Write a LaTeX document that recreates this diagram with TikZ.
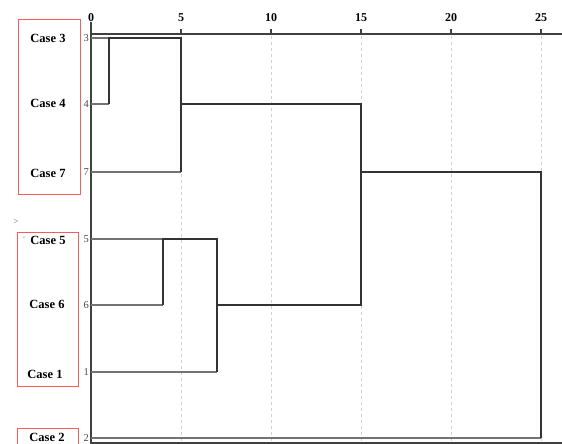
\documentclass[tikz,border=0pt]{standalone}
\usepackage{fontspec}
\setmainfont{Liberation Serif}
\begin{document}
\begin{tikzpicture}[x=1pt,y=-1pt,
  dend/.style={draw=black!80, line width=1.2pt},
  leaf/.style={draw=black!55, line width=1.1pt},
  axisline/.style={draw=black!75, line width=1.3pt},
  gridline/.style={draw=black!18, line width=0.9pt, dash pattern=on 3pt off 3pt},
  casebox/.style={draw=red!65, line width=0.9pt},
  caselab/.style={font=\bfseries\fontsize{12.5}{13}\selectfont, inner sep=0pt},
  ticklab/.style={font=\bfseries\fontsize{12}{13}\selectfont, inner sep=0pt},
  numlab/.style={font=\fontsize{10.5}{11}\selectfont, text=black!70, inner sep=0pt, anchor=east}]
\useasboundingbox (0,0) rectangle (562,444);
\fill[white] (0,0) rectangle (562,444);
% grid
\foreach \h in {5,10,15,20,25}{
  \draw[gridline] ({91+18*\h},36) -- ({91+18*\h},443);
}
% axes
\coordinate (ax0) at (91,34);
\coordinate (axR) at (562,34);
\draw[axisline] (ax0) -- (axR);
\draw[axisline] (91,22) -- (91,444);
\draw[axisline] (91,443) -- (562,443);
\foreach \h in {5,10,15,20,25}{
  \draw[axisline] ({91+18*\h},29) -- ({91+18*\h},34);
}
\foreach \h in {0,5,10,15,20,25}{
  \node[ticklab] (t\h) at ({91+18*\h},18) {\h};
}
% coordinates of leaves
\coordinate (l3) at (91,38);
\coordinate (l4) at (91,104);
\coordinate (l7) at (91,172);
\coordinate (l5) at (91,239);
\coordinate (l6) at (91,305);
\coordinate (l1) at (91,372);
\coordinate (l2) at (91,438);
% merge points
\coordinate (m34) at (109,38);
\coordinate (m34b) at (109,104);
\coordinate (m347t) at (181,38);
\coordinate (m347m) at (181,104);
\coordinate (m347b) at (181,172);
\coordinate (m56t) at (163,239);
\coordinate (m56b) at (163,305);
\coordinate (m561t) at (217,239);
\coordinate (m561m) at (217,305);
\coordinate (m561b) at (217,372);
\coordinate (mbt) at (361,104);
\coordinate (mbm) at (361,172);
\coordinate (mbb) at (361,305);
\coordinate (mall) at (541,172);
\coordinate (mallb) at (541,438);
% leaves
\draw[leaf] (l3) -- (m34);
\draw[leaf] (l4) -- (m34b);
\draw[leaf] (l7) -- (m347b);
\draw[leaf] (l5) -- (m56t);
\draw[leaf] (l6) -- (m56b);
\draw[leaf] (l1) -- (m561b);
\draw[leaf] (l2) -- (mallb);
% joins
\draw[dend] (m34b) -- (m34) -- (m347t) -- (m347b);
\draw[dend] (m347m) -- (mbt) -- (mbb) -- (m561m);
\draw[dend] (m56b) -- (m56t) -- (m561t) -- (m561b);
\draw[dend] (mbm) -- (mall) -- (mallb);
% case numbers
\node[numlab] (n3) at (89,38) {3};
\node[numlab] (n4) at (89,104) {4};
\node[numlab] (n7) at (89,172) {7};
\node[numlab] (n5) at (89,239) {5};
\node[numlab] (n6) at (89,305) {6};
\node[numlab] (n1) at (89,372) {1};
\node[numlab] (n2) at (89,438) {2};
% case boxes
\draw[casebox] (18,19) rectangle (80,194);
\draw[casebox] (17,232) rectangle (78,386);
\draw[casebox] (17,428) rectangle (78,450);
% case labels
\node[caselab] (c3) at (48,38) {Case 3};
\node[caselab] (c4) at (48,103) {Case 4};
\node[caselab] (c7) at (48,173) {Case 7};
\node[caselab] (c5) at (48,240) {Case 5};
\node[caselab] (c6) at (47,304) {Case 6};
\node[caselab] (c1) at (45,374) {Case 1};
\node[caselab] (c2) at (47,437.5) {Case 2};
\node[font=\fontsize{9}{10}\selectfont, text=black!60, inner sep=0pt] (gt) at (16,222) {>};
\node[font=\fontsize{8}{9}\selectfont, text=black!50, inner sep=0pt] (dot) at (24,238) {-};
\end{tikzpicture}
\end{document}
